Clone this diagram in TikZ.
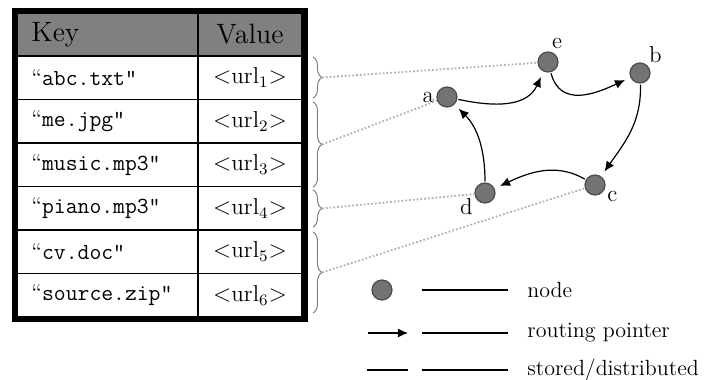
\documentclass[tikz,border=0pt]{standalone}
\usetikzlibrary{arrows.meta,decorations.pathreplacing}

\tikzset{
  cell/.style={draw, line width=0.7pt, minimum height=21.75pt, inner sep=0pt,
    font=\fontsize{11.5}{13}\selectfont},
  keycell/.style={cell, minimum width=90.5pt, text width=76pt, align=left},
  valcell/.style={cell, minimum width=52pt, align=center},
  headcell/.style={fill=black!50, minimum height=21.5pt, font=\fontsize{14}{16}\selectfont},
  peer/.style={circle, draw=black!70, fill=black!55, line width=0.6pt,
    minimum size=10pt, inner sep=0pt, label distance=4pt},
  peerlabel/.style={font=\fontsize{11.5}{13}\selectfont, inner sep=1pt},
  route/.style={-{Latex[length=5pt,width=4.5pt]}, line width=0.6pt, shorten >=3pt, shorten <=0.5pt},
  grp/.style={draw=black!50, line width=0.5pt, decorate, decoration={brace, amplitude=4.5pt}},
  store/.style={black!30, densely dotted, line width=0.9pt},
  legtext/.style={anchor=west, inner sep=0pt, font=\fontsize{11}{13}\selectfont}
}

\begin{document}
\begin{tikzpicture}[x=0.5pt, y=0.5pt]
\useasboundingbox (0,0) rectangle (720,380);

% the table
\node[keycell, headcell] (hkey) at (107.5,345.5) {Key};
\node[valcell, headcell] (hval) at (250,345.5) {Value};
\foreach \fname [count=\idx] in {abc.txt, me.jpg, music.mp3, piano.mp3, cv.doc, source.zip} {
  \node[keycell] (k\idx) at (107.5,345.75-43.5*\idx) {``\texttt{\fname"}};
  \node[valcell] (u\idx) at (250,345.75-43.5*\idx) {$<$url$_{\idx}$$>$};
}
\draw[line width=2.5pt] (14.5,60.5) rectangle (305.5,369.5);

% braces grouping the rows
\foreach \top/\bot/\nm in {323/282/t1, 278/193/t2, 190/153/t3, 148/67/t4}
  \draw[grp] (313,\top) -- coordinate[pos=0.5, xshift=4.5pt] (\nm) (313,\bot);

% the ring
\node[peer, label={[peerlabel]80:e}] (e) at (548,318) {};
\node[peer, label={[peerlabel]50:b}] (b) at (640,307) {};
\node[peer, label={[peerlabel]180:a}] (a) at (447,283) {};
\node[peer, label={[peerlabel]200:d}] (d) at (485,187) {};
\node[peer, label={[peerlabel]-20:c}] (c) at (595,195) {};

\draw[store] (t1) -- (e);
\draw[store] (t2) -- (a);
\draw[store] (t3) -- (d);
\draw[store] (t4) -- (c);

\draw[route] (a) to[out=-12, in=-115, looseness=1.1] (e);
\draw[route] (e) to[out=-75, in=-155, looseness=1.2] (b);
\draw[route] (b) to[out=-88, in=55] (c);
\draw[route] (c) to[out=150, in=25] (d);
\draw[route] (d) to[out=90, in=-45] (a);

% legend
\node[peer] (lpeer) at (382,90) {};
\node[legtext] (lt1) at (527,90) {node};
\node[legtext] (lt2) at (527,47) {routing pointer};
\node[legtext] (lt3) at (527,10) {stored/distributed};
\coordinate (r1) at (367,47);
\coordinate (r2) at (408,47);
\coordinate (s1) at (367,10);
\coordinate (s2) at (408,10);
\draw[route, shorten >=0pt] (r1) -- (r2);
\draw[line width=0.6pt] (s1) -- (s2);
\foreach \n in {lt1, lt2, lt3}
  \draw[line width=0.6pt] ([xshift=-9.5pt]\n.west) -- ++(-43pt,0);
\end{tikzpicture}
\end{document}
